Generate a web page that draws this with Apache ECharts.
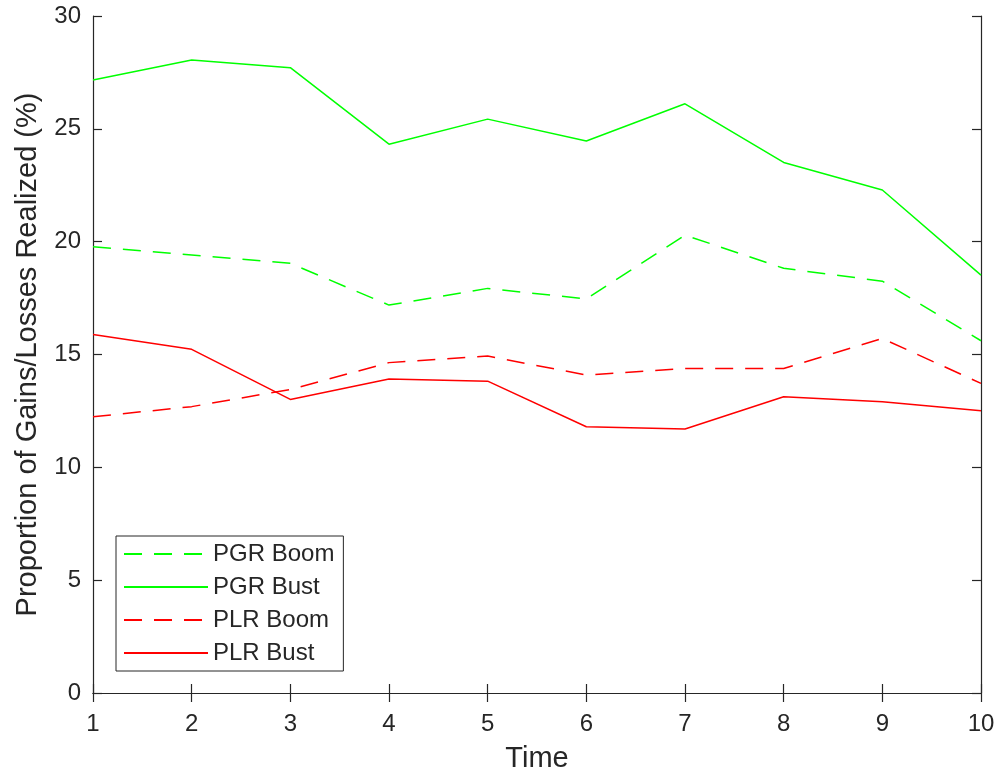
<!DOCTYPE html>
<html>
<head>
<meta charset="utf-8">
<script src="https://cdn.jsdelivr.net/npm/echarts@6/dist/echarts.min.js"></script>
<style>
html,body{margin:0;padding:0;background:#fff;}
#chart{width:1000px;height:778px;}
</style>
</head>
<body>
<div id="chart"></div>
<script>
var times = [1, 2, 3, 4, 5, 6, 7, 8, 9, 10];
var pgrBoom = [19.78, 19.41, 19.04, 17.19, 17.93, 17.46, 20.29, 18.82, 18.25, 15.61];
var pgrBust = [27.16, 28.05, 27.71, 24.32, 25.43, 24.46, 26.11, 23.51, 22.29, 18.52];
var plrBoom = [12.24, 12.69, 13.45, 14.64, 14.93, 14.09, 14.38, 14.38, 15.71, 13.72];
var plrBust = [15.89, 15.23, 13.01, 13.91, 13.82, 11.80, 11.70, 13.13, 12.91, 12.51];
var yTicks = [0, 5, 10, 15, 20, 25, 30];
var seriesNames = ['PGR Boom', 'PGR Bust', 'PLR Boom', 'PLR Bust'];

function pairs(vals) { return times.map(function (t, i) { return [t, vals[i]]; }); }

var textColor = '#262626';
var axisColor = '#262626';
var font = 'Liberation Sans, Arial, sans-serif';

function mkSeries(name, vals, color, dashed) {
  return {
    name: name, type: 'line', data: pairs(vals), symbol: 'none', showSymbol: false,
    lineStyle: { color: color, width: 1.5, type: dashed ? [18, 12] : 'solid' },
    itemStyle: { color: color },
    emphasis: { disabled: true }, animation: false
  };
}

var chart = echarts.init(document.getElementById('chart'), null, { renderer: 'canvas' });
chart.setOption({
  backgroundColor: '#ffffff',
  animation: false,
  grid: { left: 93, right: 19, top: 16, bottom: 85, containLabel: false },
  xAxis: [{
    type: 'value', min: 1, max: 10, interval: 1,
    name: 'Time', nameLocation: 'middle', nameGap: 51,
    nameTextStyle: { color: textColor, fontSize: 29, fontFamily: font },
    axisLine: { show: true, lineStyle: { color: axisColor, width: 1.2 } },
    axisTick: { show: true, inside: true, length: 9, lineStyle: { color: axisColor, width: 1.2 } },
    axisLabel: { color: textColor, fontSize: 24, fontFamily: font, margin: 19 },
    splitLine: { show: false }
  }, {
    type: 'value', min: 1, max: 10, interval: 1, position: 'top',
    axisLine: { show: true, lineStyle: { color: axisColor, width: 1.2 } },
    axisTick: { show: true, inside: true, length: 9, lineStyle: { color: axisColor, width: 1.2 } },
    axisLabel: { show: false }, splitLine: { show: false }
  }],
  yAxis: [{
    type: 'value', min: yTicks[0], max: yTicks[yTicks.length - 1], interval: 5,
    name: 'Proportion of Gains/Losses Realized (%)', nameLocation: 'middle', nameGap: 51,
    nameTextStyle: { color: textColor, fontSize: 29, fontFamily: font },
    axisLine: { show: true, lineStyle: { color: axisColor, width: 1.2 } },
    axisTick: { show: true, inside: true, length: 9, lineStyle: { color: axisColor, width: 1.2 } },
    axisLabel: { color: textColor, fontSize: 24, fontFamily: font, margin: 12 },
    splitLine: { show: false }
  }, {
    type: 'value', min: yTicks[0], max: yTicks[yTicks.length - 1], interval: 5, position: 'right',
    axisLine: { show: true, lineStyle: { color: axisColor, width: 1.2 } },
    axisTick: { show: true, inside: true, length: 9, lineStyle: { color: axisColor, width: 1.2 } },
    axisLabel: { show: false }, splitLine: { show: false }
  }],
  legend: {
    data: seriesNames,
    orient: 'vertical', left: 116, top: 536,
    padding: [6, 9, 6, 7],
    itemWidth: 84, itemHeight: 14, itemGap: 9,
    borderColor: axisColor, borderWidth: 1, backgroundColor: '#ffffff',
    itemStyle: { opacity: 0 },
    textStyle: { color: textColor, fontSize: 24, fontFamily: font },
    selectedMode: false
  },
  series: [
    mkSeries(seriesNames[0], pgrBoom, '#00ff00', true),
    mkSeries(seriesNames[1], pgrBust, '#00ff00', false),
    mkSeries(seriesNames[2], plrBoom, '#ff0000', true),
    mkSeries(seriesNames[3], plrBust, '#ff0000', false)
  ]
});
</script>
</body>
</html>
